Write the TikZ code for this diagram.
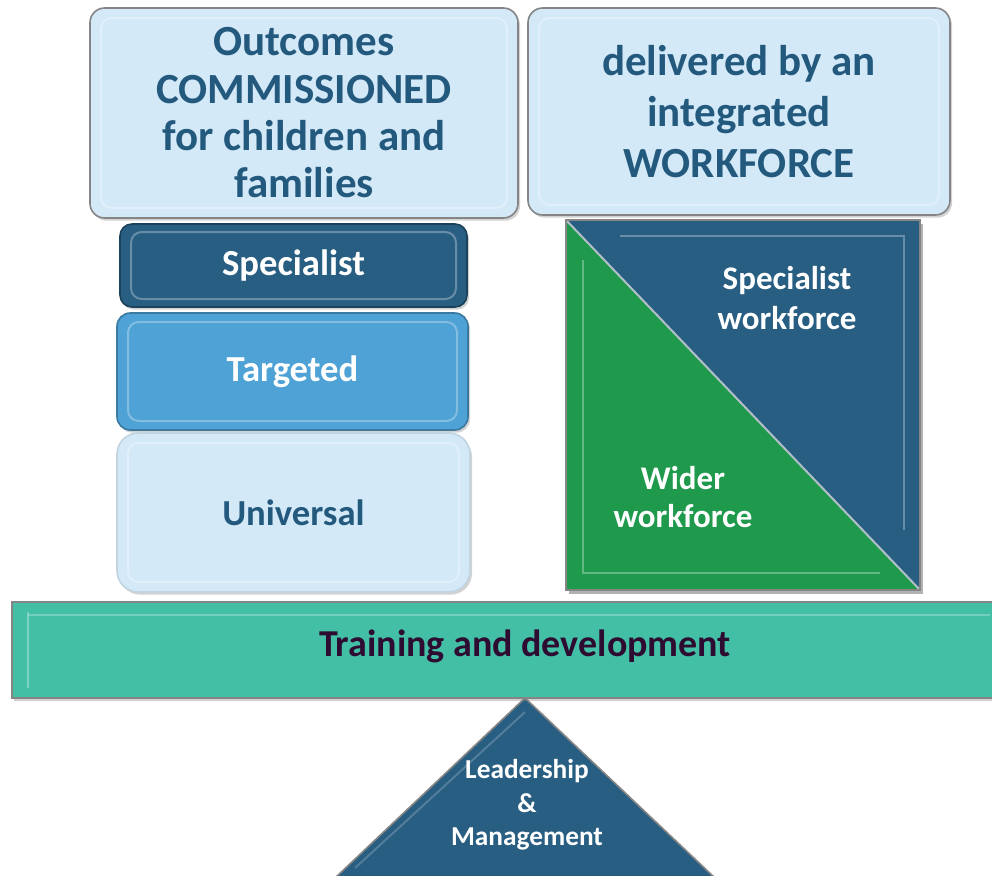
\documentclass[tikz,border=0pt]{standalone}
\usepackage{fontspec}
\setmainfont{Carlito}
\usetikzlibrary{shadows}

\definecolor{paleblue}{HTML}{D3E9F8}
\definecolor{inkblue}{HTML}{24597E}
\definecolor{deepblue}{HTML}{285E82}
\definecolor{midblue}{HTML}{4EA2D5}
\definecolor{widegreen}{HTML}{1F9A4D}
\definecolor{barteal}{HTML}{42BFA5}
\definecolor{barink}{HTML}{2E0B31}
\definecolor{edgegray}{HTML}{858585}

\tikzset{
	card/.style={draw=edgegray, line width=1.2pt, rounded corners=11pt, align=center,
		drop shadow={opacity=0.35, shadow xshift=1.5pt, shadow yshift=-2pt}},
	bigtext/.style={font=\fontsize{32.25}{35.5}\selectfont\bfseries},
	midtext/.style={font=\fontsize{27.5}{31}\selectfont\bfseries},
	bevel/.style={draw=white, opacity=0.3, line width=1.5pt, rounded corners=8pt}
}

\begin{document}
\begin{tikzpicture}[x=0.75pt,y=-0.75pt]
			\clip (0,0) rectangle (992,875);
			\fill[white] (0,0) rectangle (992,875);
			
			\node[card, fill=paleblue, text=inkblue, bigtext, minimum width=321pt, minimum height=157.5pt] (outcomes) at (304,113)
				{Outcomes\\COMMISSIONED\\for children and\\families};
			\node[card, fill=paleblue, text=inkblue, font=\fontsize{32.25}{38.5}\selectfont\bfseries, minimum width=316.5pt, minimum height=155.25pt] (workforce) at (739,111.5)
				{delivered by an\\integrated\\WORKFORCE};
			\draw[bevel] (101,18) rectangle (507,208);
			\draw[bevel] (539,18) rectangle (939,205);
			
			\node[card, fill=deepblue, draw=deepblue!70!black, text=white, midtext, rounded corners=9pt, minimum width=260.25pt, minimum height=62.25pt] (specialist) at (293.5,265.5) {Specialist};
			\node[card, fill=midblue, draw=midblue!75!black, text=white, midtext, rounded corners=10pt, minimum width=263.25pt, minimum height=87.75pt] (targeted) at (292.5,371.5) {Targeted};
			\node[card, fill=paleblue, draw=paleblue!80!gray, text=inkblue, midtext, rounded corners=16pt, minimum width=264.75pt, minimum height=119.25pt] (universal) at (293.5,512.5) {Universal};
			\draw[bevel] (131,232) rectangle (456,299);
			\draw[bevel] (128,322) rectangle (457,421);
			\draw[bevel] (128,443) rectangle (459,582);
			
			\coordinate (sqtl) at (566,220);
			\coordinate (sqtr) at (920,220);
			\coordinate (sqbr) at (920,590);
			\coordinate (sqbl) at (566,590);
			\fill[black, opacity=0.3] ([shift={(3,4)}]sqtl) rectangle ([shift={(3,4)}]sqbr);
			\fill[deepblue] (sqtl) -- (sqtr) -- (sqbr) -- cycle;
			\fill[widegreen] (sqtl) -- (sqbl) -- (sqbr) -- cycle;
			\draw[white, opacity=0.3, line width=1.5pt] (583,260) -- (583,573) -- (880,573);
			\draw[white, opacity=0.3, line width=1.5pt] (620,236) -- (904,236) -- (904,530);
			\draw[paleblue!60!gray, line width=1.5pt] (sqtl) -- (sqbr);
			\draw[edgegray, line width=0.8pt] (sqtl) rectangle (sqbr);
			\node[text=white, align=center, font=\fontsize{24.75}{30}\selectfont\bfseries] (speclabel) at (787,298) {Specialist\\workforce};
			\node[text=white, align=center, font=\fontsize{24.75}{28.5}\selectfont\bfseries] (widerlabel) at (683,497) {Wider\\workforce};
			
			\coordinate (apex) at (525,698);
			\coordinate (baseL) at (335,878);
			\coordinate (baseR) at (715,878);
			\draw[fill=deepblue, draw=edgegray, line width=1.2pt] (apex) -- (baseR) -- (baseL) -- cycle;
			\draw[white, opacity=0.2, line width=1.5pt] (525,712) -- (355,868);
			\node[text=white, align=center, font=\fontsize{20.5}{25}\selectfont\bfseries] (lead) at (527,805) {Leadership\\\&\\Management};
			
			\node[draw=edgegray, line width=1.2pt, fill=barteal, minimum width=737.25pt, minimum height=72pt,
				drop shadow={opacity=0.35, shadow xshift=1.5pt, shadow yshift=-2.5pt}] (training) at (503.5,650) {};
			\draw[white, opacity=0.3, line width=1.5pt] (28,612) -- (28,688);
			\draw[white, opacity=0.25, line width=1.5pt] (28,615) -- (990,615);
			\node[text=barink, font=\fontsize{28.5}{31}\selectfont\bfseries] (traininglabel) at (525,646) {Training and development};
\end{tikzpicture}
\end{document}
